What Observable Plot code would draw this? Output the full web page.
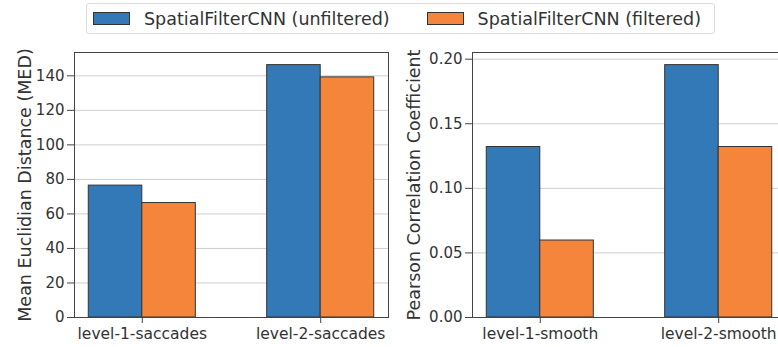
<!DOCTYPE html>
<html>
<head>
<meta charset="utf-8">
<script src="https://cdn.jsdelivr.net/npm/d3@7"></script>
<script src="https://cdn.jsdelivr.net/npm/@observablehq/plot@0.6"></script>
<style>
  html, body { margin: 0; padding: 0; background: #fff; }
  #root { position: relative; width: 778px; height: 347px; overflow: hidden; font-family: "DejaVu Sans", sans-serif; color: #333; }
  #root svg { position: absolute; top: 0; }
  #legend { position: absolute; left: 86px; top: 3px; width: 627px; height: 29px; border: 1px solid #dcdcdc; border-radius: 3px; background: #fff; display: flex; align-items: center; font-size: 17.5px; z-index: 2; }
  .item { display: flex; align-items: center; }
  .swatch { width: 35px; height: 11px; border: 1px solid #333; margin-right: 14px; }
</style>
</head>
<body>
<div id="root"><div id="legend"></div></div>
<script>
// Series shown in both panels
const series = ["SpatialFilterCNN (unfiltered)", "SpatialFilterCNN (filtered)"];
const seriesColors = ["#3379b7", "#f5853a"];

// Mean Euclidian Distance panel
const medGroups = ["level-1-saccades", "level-2-saccades"];
const medUnfiltered = [76.4, 146.2];
const medFiltered = [66.3, 139.1];
const medTicks = [0, 20, 40, 60, 80, 100, 120, 140];

// Pearson Correlation Coefficient panel
const pccGroups = ["level-1-smooth", "level-2-smooth"];
const pccUnfiltered = [0.132, 0.1954];
const pccFiltered = [0.0596, 0.132];
const pccTicks = [0, 0.05, 0.10, 0.15, 0.20];

const barWidth = 0.3;

function rows(groups, a, b) {
  const out = [];
  groups.forEach((g, i) => {
    out.push({i, group: g, series: series[0], value: a[i], x1: i - barWidth, x2: i});
    out.push({i, group: g, series: series[1], value: b[i], x1: i, x2: i + barWidth});
  });
  return out;
}

function panel({groups, data, ticks, tickFormat, label, left, width, marginLeft, marginRight, labelOffset}) {
  const ymax = d3.max(data, d => d.value) * 1.05;
  const svg = Plot.plot({
    width, height: 347,
    marginLeft, marginRight, marginTop: 52, marginBottom: 30,
    style: {fontFamily: "DejaVu Sans, sans-serif", fontSize: "15px", color: "#333", background: "transparent", maxWidth: "none", overflow: "visible"},
    x: {type: "linear", domain: [-0.3 - 0.08, 1.3 + 0.08]},
    y: {domain: [0, ymax]},
    color: {domain: series, range: seriesColors},
    marks: [
      Plot.gridY(ticks, {stroke: "#cfcfcf", strokeOpacity: 1, strokeWidth: 1}),
      Plot.rect(data, {x1: "x1", x2: "x2", y1: 0, y2: "value", fill: "series", stroke: "#333", strokeWidth: 1}),
      Plot.frame({stroke: "#444", strokeWidth: 1}),
      Plot.axisY(ticks, {tickSize: 7, tickPadding: 3, tickFormat, fontSize: 15, stroke: "#444",
        label, labelAnchor: "center", labelArrow: "none", labelOffset, fontSize: 15}),
      Plot.axisX([0, 1], {tickSize: 6, tickPadding: 4, tickFormat: i => groups[i], fontSize: 15.5, stroke: "#444", label: null})
    ]
  });
  svg.style.left = left + "px";
  svg.querySelectorAll("[aria-label='y-axis label'] text, [aria-label='y-axis label']").forEach(el => el.setAttribute("font-size", "17.5"));
  return svg;
}

const root = document.getElementById("root");
root.appendChild(panel({
  groups: medGroups, data: rows(medGroups, medUnfiltered, medFiltered), ticks: medTicks,
  tickFormat: d3.format("d"), label: "Mean Euclidian Distance (MED)",
  left: 0, width: 390, marginLeft: 74, marginRight: 2, labelOffset: 56
}));
root.appendChild(panel({
  groups: pccGroups, data: rows(pccGroups, pccUnfiltered, pccFiltered), ticks: pccTicks,
  tickFormat: d3.format(".2f"), label: "Pearson Correlation Coefficient",
  left: 390, width: 396, marginLeft: 82, marginRight: 0, labelOffset: 65
}));

// Legend above both panels
const legend = document.getElementById("legend");
series.forEach((s, k) => {
  const item = document.createElement("div");
  item.className = "item";
  item.style.marginLeft = k === 0 ? "6px" : "37px";
  const sw = document.createElement("div");
  sw.className = "swatch";
  sw.style.background = seriesColors[k];
  const tx = document.createElement("span");
  tx.textContent = s;
  item.append(sw, tx);
  legend.appendChild(item);
});
</script>
</body>
</html>
